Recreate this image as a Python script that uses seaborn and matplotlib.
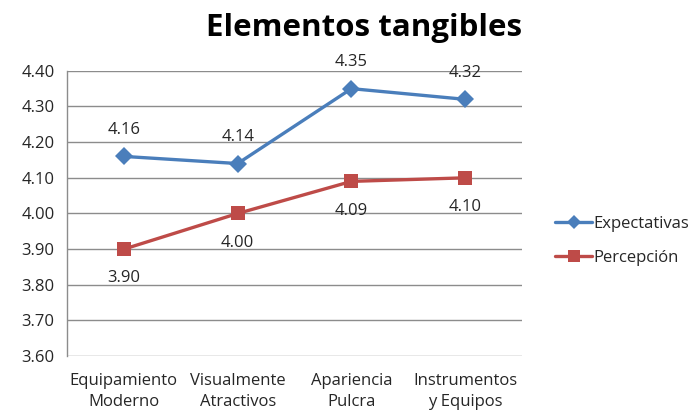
import matplotlib
matplotlib.use("Agg")
import matplotlib.pyplot as plt
import seaborn as sns
import pandas as pd
from matplotlib.lines import Line2D

categories = ["Equipamiento\nModerno", "Visualmente\nAtractivos", "Apariencia\nPulcra", "Instrumentos\ny Equipos"]
expectativas = [4.16, 4.14, 4.35, 4.32]
percepcion = [3.90, 4.00, 4.09, 4.10]
series_names = ["Expectativas", "Percepción"]
y_ticks = [3.60, 3.70, 3.80, 3.90, 4.00, 4.10, 4.20, 4.30, 4.40]

sns.set_style("white")
plt.rcParams['font.family'] = ['Open Sans', 'DejaVu Sans']

df = pd.DataFrame({
    "cat": list(range(len(categories))) * 2,
    "value": expectativas + percepcion,
    "serie": [series_names[0]] * 4 + [series_names[1]] * 4,
})

colors = {"Expectativas": "#4A7EBB", "Percepción": "#BE4B48"}

fig = plt.figure(figsize=(6.97, 4.19), dpi=100)
ax = fig.add_axes([0.0961, 0.150, 0.653, 0.681])

sns.lineplot(data=df, x="cat", y="value", hue="serie", style="serie",
             markers={"Expectativas": "D", "Percepción": "s"}, dashes=False,
             palette=colors, linewidth=2.4, markersize=10, markeredgewidth=0,
             ax=ax, legend=False)
for line in ax.lines:
    if line.get_marker() == "D":
        line.set_markersize(9)

ax.set_xlim(-0.5, len(categories) - 0.5)
ax.set_ylim(3.60, 4.40)
ax.set_yticks(y_ticks)
ax.set_yticklabels([f"{v:.2f}" for v in y_ticks], fontsize=12, color="#262626")
ax.set_xticks(range(len(categories)))
ax.set_xticklabels(categories, fontsize=12, color="#262626", linespacing=1.45)
ax.tick_params(axis="y", length=0, pad=9)
ax.tick_params(axis="x", length=0, pad=12)
ax.yaxis.grid(True, color="#8C8C8C", linewidth=1)
ax.set_axisbelow(True)
for s in ["top", "right", "bottom"]:
    ax.spines[s].set_visible(False)
ax.spines["left"].set_color("#8C8C8C")
ax.spines["left"].set_linewidth(1)
ax.set_xlabel("")
ax.set_ylabel("")

for i, v in enumerate(expectativas):
    ax.annotate(f"{v:.2f}", (i, v), xytext=(0, 19), textcoords="offset points",
                ha="center", va="center", fontsize=12, color="#262626")
for i, v in enumerate(percepcion):
    ax.annotate(f"{v:.2f}", (i, v), xytext=(0, -21), textcoords="offset points",
                ha="center", va="center", fontsize=12, color="#262626")

fig.text(0.523, 0.933, "Elementos tangibles", ha="center", va="center",
         fontsize=22.5, fontweight="bold", color="black")

handles = [Line2D([], [], color=colors["Expectativas"], marker="D", markersize=7, linewidth=2.4, markeredgewidth=0),
           Line2D([], [], color=colors["Percepción"], marker="s", markersize=9, linewidth=2.4, markeredgewidth=0)]
fig.legend(handles, series_names, loc="center left", bbox_to_anchor=(0.775, 0.425),
           frameon=False, fontsize=12, handlelength=2.2, handletextpad=0.1, labelspacing=1.05,
           labelcolor="#262626")

fig.savefig("out.png", dpi=100, facecolor="white")
